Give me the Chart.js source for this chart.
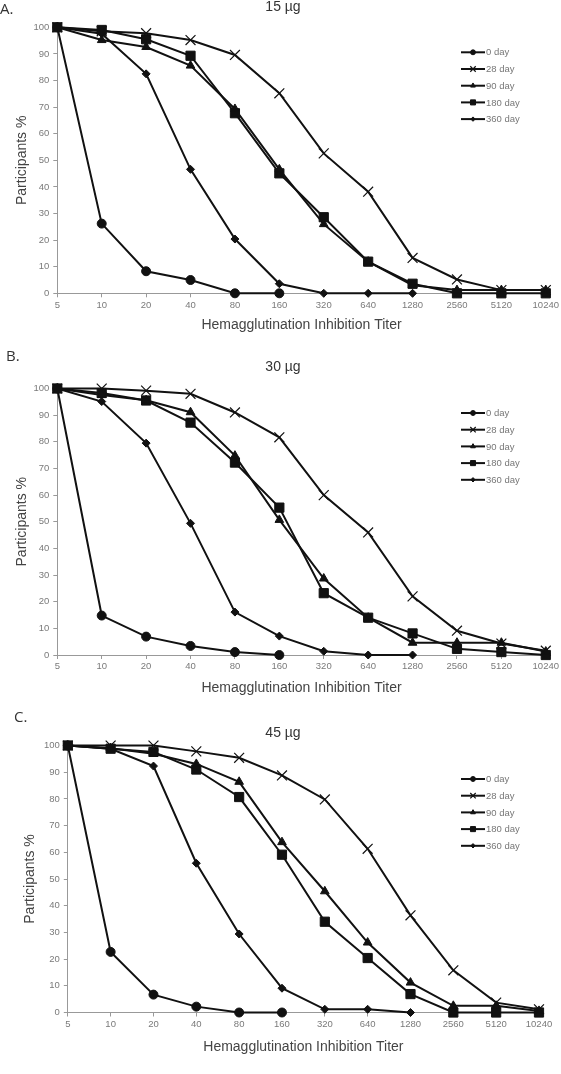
<!DOCTYPE html>
<html>
<head>
<meta charset="utf-8">
<title>HI titer curves</title>
<script src="https://cdn.jsdelivr.net/npm/chart.js@4/dist/chart.umd.min.js"></script>
<style>
  body { margin: 0; background: #fff; }
  .panel { position: absolute; left: 0; width: 561px; }
</style>
</head>
<body>
<div class="panel" id="boxA"><canvas id="chartA"></canvas></div>
<div class="panel" id="boxB"><canvas id="chartB"></canvas></div>
<div class="panel" id="boxC"><canvas id="chartC"></canvas></div>
<script>
// HI titer categories (x axis)
const titers = ["5", "10", "20", "40", "80", "160", "320", "640", "1280", "2560", "5120", "10240"];
const seriesNames = ["0 day", "28 day", "90 day", "180 day", "360 day"];

// % of participants at or above each titer, 15 ug
const a_d0   = [100, 26.2, 8.3, 5.0, 0, 0];
const a_d28  = [100, 98.5, 97.8, 95.2, 89.6, 75.2, 52.6, 38.2, 13.3, 5.2, 1.2, 1.2];
const a_d90  = [100, 95.2, 92.6, 85.6, 69.3, 46.6, 26.0, 11.9, 3.0, 1.2, 1.2, 1.2];
const a_d180 = [100, 99.0, 95.5, 89.3, 67.7, 45.1, 28.6, 11.9, 3.6, 0, 0, 0];
const a_d360 = [100, 97.6, 82.5, 46.6, 20.4, 3.6, 0, 0, 0];

// 30 ug
const b_d0   = [100, 14.8, 6.9, 3.4, 1.1, 0];
const b_d28  = [100, 100, 99.2, 98.0, 91.0, 81.7, 60.0, 46.0, 22.0, 9.1, 4.3, 1.6];
const b_d90  = [100, 97.6, 95.6, 91.1, 74.8, 50.7, 28.7, 14.0, 4.6, 4.6, 4.6, 1.3];
const b_d180 = [100, 98.3, 95.5, 87.2, 72.2, 55.3, 23.2, 14.0, 8.1, 2.3, 1.1, 0];
const b_d360 = [100, 95.1, 79.5, 49.4, 16.1, 7.1, 1.4, 0, 0];

// 45 ug
const c_d0   = [100, 22.7, 6.7, 2.2, 0, 0];
const c_d28  = [100, 100, 100, 97.8, 95.4, 88.8, 79.8, 61.3, 36.4, 15.8, 3.7, 1.2];
const c_d90  = [100, 99.0, 96.9, 93.1, 86.4, 63.8, 45.4, 26.2, 11.2, 2.5, 2.5, 0.6];
const c_d180 = [100, 98.8, 97.6, 91.0, 80.7, 59.1, 34.0, 20.4, 6.9, 0, 0, 0];
const c_d360 = [100, 98.8, 92.3, 55.9, 29.4, 9.1, 1.2, 1.2, 0];

const yTicks = [0, 10, 20, 30, 40, 50, 60, 70, 80, 90, 100];

// marker look per series
const markers = [
    { pointStyle: "circle",   radius: 4.5, borderWidth: 1 },
    { pointStyle: "crossRot", radius: 7,   borderWidth: 1.2 },
    { pointStyle: "triangle", radius: 5,   borderWidth: 1 },
    { pointStyle: "rect",     radius: 6.5, borderWidth: 1 },
    { pointStyle: "rectRot",  radius: 4,   borderWidth: 1 }
];

const ink = "#111";

function drawMarker(ctx, m, x, y, scale) {
    ctx.save();
    ctx.fillStyle = ink;
    ctx.strokeStyle = ink;
    ctx.lineWidth = m.borderWidth;
    Chart.helpers.drawPoint(ctx, { pointStyle: m.pointStyle, radius: m.radius * scale, rotation: 0, borderWidth: m.borderWidth }, x, y);
    ctx.restore();
}

// panel letter, dose title and the little legend
const panelDecor = {
    id: "panelDecor",
    afterDraw(chart, args, opts) {
        const ctx = chart.ctx;
        const area = chart.chartArea;
        ctx.save();
        ctx.fillStyle = "#333";
        ctx.textBaseline = "middle";
        ctx.font = "15px 'Open Sans', sans-serif";
        ctx.textAlign = "left";
        ctx.fillText(opts.letter, opts.letterX, opts.letterY);
        ctx.font = "14px 'Liberation Sans', Arial, sans-serif";
        ctx.textAlign = "center";
        ctx.fillText(opts.title, opts.titleX, opts.titleY);

        ctx.font = "9.5px 'Liberation Sans', Arial, sans-serif";
        ctx.textAlign = "left";
        chart.data.datasets.forEach((ds, i) => {
            const y = area.top + opts.legendDy + i * 16.7;
            const x0 = opts.legendX;
            ctx.strokeStyle = ink;
            ctx.lineWidth = 2;
            ctx.beginPath();
            ctx.moveTo(x0, y);
            ctx.lineTo(x0 + 24, y);
            ctx.stroke();
            drawMarker(ctx, markers[i], x0 + 12, y, 0.55);
            ctx.fillStyle = "#777";
            ctx.fillText(ds.label, x0 + 25, y + 0.5);
        });
        ctx.restore();
    }
};

function makePanel(canvasId, boxId, lay, seriesList) {
    const box = document.getElementById(boxId);
    box.style.top = lay.top + "px";
    box.style.height = lay.height + "px";

    const datasets = seriesList.map((vals, i) => ({
        label: seriesNames[i],
        data: vals,
        borderColor: ink,
        backgroundColor: ink,
        borderWidth: 2,
        tension: 0,
        pointStyle: markers[i].pointStyle,
        pointRadius: markers[i].radius,
        pointBorderWidth: markers[i].borderWidth,
        pointBorderColor: ink,
        pointBackgroundColor: ink,
        clip: false
    }));

    new Chart(document.getElementById(canvasId), {
        type: "line",
        data: { labels: titers, datasets: datasets },
        options: {
            responsive: true,
            maintainAspectRatio: false,
            animation: false,
            layout: {
                padding: { top: lay.plotTop - lay.top, left: lay.padLeft, right: 561 - lay.plotRight, bottom: 0 }
            },
            plugins: {
                legend: { display: false },
                title: { display: false },
                tooltip: { enabled: false },
                panelDecor: {
                    letter: lay.letter, letterX: lay.letterX, letterY: lay.letterY - lay.top,
                    title: lay.title, titleX: 283, titleY: lay.titleY - lay.top,
                    legendX: 461, legendDy: lay.legendDy
                }
            },
            scales: {
                x: {
                    type: "category",
                    offset: false,
                    grid: { drawOnChartArea: false, tickLength: 4, color: "#999" },
                    border: { color: "#999", width: 1 },
                    ticks: { color: "#7a7a7a", font: { size: 9.5, family: "'Liberation Sans', Arial, sans-serif" }, padding: 2, autoSkip: false, maxRotation: 0 },
                    title: { display: true, text: "Hemagglutination Inhibition Titer", color: "#444", font: { size: 14, family: "'Liberation Sans', Arial, sans-serif" }, padding: { top: 4, bottom: 4 } },
                    afterFit: (s) => { s.height = lay.top + lay.height - lay.plotBottom; }
                },
                y: {
                    min: 0,
                    max: 100,
                    afterBuildTicks: (s) => { s.ticks = yTicks.map(v => ({ value: v })); },
                    grid: { drawOnChartArea: false, tickLength: 4, color: "#999" },
                    border: { color: "#999", width: 1 },
                    ticks: { color: "#7a7a7a", font: { size: 9.5, family: "'Liberation Sans', Arial, sans-serif" }, padding: 4 },
                    title: { display: true, text: "Participants %", color: "#444", font: { size: 14, family: "'Liberation Sans', Arial, sans-serif" }, padding: { top: 4, bottom: 4 } },
                    afterFit: (s) => { s.width = lay.plotLeft - lay.padLeft; }
                }
            }
        },
        plugins: [panelDecor]
    });
}

makePanel("chartA", "boxA",
    { top: 0, height: 338, plotTop: 27.3, plotBottom: 293.3, plotLeft: 57.3, plotRight: 548, padLeft: 9.6,
      letter: "A.", letterX: 0, letterY: 10, title: "15 \u00b5g", titleY: 7.5, legendDy: 25 },
    [a_d0, a_d28, a_d90, a_d180, a_d360]);

makePanel("chartB", "boxB",
    { top: 345, height: 356, plotTop: 388.5, plotBottom: 655, plotLeft: 57.3, plotRight: 548, padLeft: 9.6,
      letter: "B.", letterX: 6, letterY: 357, title: "30 \u00b5g", titleY: 367, legendDy: 24.5 },
    [b_d0, b_d28, b_d90, b_d180, b_d360]);

makePanel("chartC", "boxC",
    { top: 705, height: 355, plotTop: 745.5, plotBottom: 1012.5, plotLeft: 67.8, plotRight: 539, padLeft: 18,
      letter: "C.", letterX: 14, letterY: 718, title: "45 \u00b5g", titleY: 733, legendDy: 33.5 },
    [c_d0, c_d28, c_d90, c_d180, c_d360]);
</script>
</body>
</html>
